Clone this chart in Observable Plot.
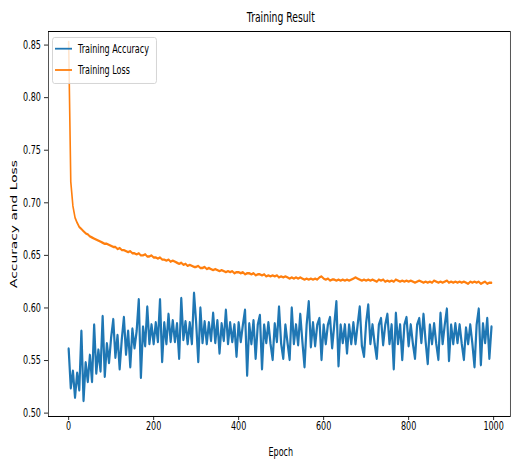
<!DOCTYPE html>
<html><head><meta charset="utf-8">
<script src="https://cdn.jsdelivr.net/npm/d3@7"></script>
<script src="https://cdn.jsdelivr.net/npm/@observablehq/plot@0.6"></script>
<style>
body{margin:0;background:#fff;overflow:hidden;}
#chart{position:relative;width:511px;height:462px;overflow:hidden;}
</style></head><body><div id="chart"></div>
<script>
const accuracy = [
0.561,0.524,0.540,0.515,0.538,0.522,0.578,0.512,0.548,0.530,
0.555,0.530,0.584,0.538,0.560,0.540,0.592,0.535,0.566,0.548,
0.572,0.589,0.553,0.574,0.542,0.570,0.591,0.556,0.578,0.544,
0.580,0.562,0.578,0.608,0.534,0.582,0.564,0.601,0.566,0.584,
0.566,0.586,0.568,0.608,0.549,0.586,0.566,0.594,0.568,0.588,
0.568,0.585,0.552,0.609,0.570,0.587,0.566,0.586,0.566,0.614,
0.586,0.549,0.600,0.567,0.587,0.566,0.586,0.569,0.595,0.567,
0.588,0.557,0.585,0.569,0.598,0.566,0.586,0.568,0.584,0.554,
0.586,0.568,0.584,0.598,0.536,0.585,0.566,0.588,0.552,0.584,
0.593,0.542,0.584,0.567,0.586,0.566,0.551,0.585,0.568,0.601,
0.566,0.552,0.584,0.567,0.551,0.600,0.566,0.584,0.565,0.594,
0.568,0.544,0.584,0.606,0.563,0.586,0.564,0.584,0.590,0.551,
0.584,0.566,0.584,0.591,0.562,0.584,0.606,0.545,0.584,0.567,
0.584,0.557,0.584,0.566,0.586,0.566,0.584,0.601,0.564,0.554,
0.586,0.603,0.566,0.584,0.566,0.552,0.584,0.590,0.565,0.584,
0.594,0.566,0.584,0.542,0.595,0.566,0.584,0.551,0.584,0.591,
0.564,0.584,0.566,0.552,0.584,0.590,0.567,0.594,0.568,0.547,
0.584,0.566,0.585,0.566,0.551,0.595,0.566,0.584,0.599,0.550,
0.584,0.566,0.585,0.567,0.584,0.566,0.551,0.581,0.566,0.584,
0.566,0.544,0.584,0.599,0.546,0.585,0.567,0.590,0.552,0.582
];
const loss = [
0.853,0.720,0.697,0.686,0.681,0.677,0.675,0.673,0.671,0.670,
0.668,0.667,0.666,0.665,0.664,0.663,0.662,0.661,0.661,0.660,
0.659,0.658,0.658,0.656,0.657,0.655,0.655,0.654,0.653,0.654,
0.652,0.652,0.651,0.652,0.650,0.650,0.651,0.649,0.649,0.650,
0.648,0.648,0.647,0.648,0.646,0.646,0.645,0.646,0.644,0.645,
0.644,0.643,0.642,0.643,0.641,0.642,0.640,0.641,0.640,0.639,
0.639,0.640,0.638,0.638,0.639,0.637,0.638,0.637,0.636,0.637,
0.636,0.635,0.636,0.635,0.634,0.635,0.634,0.635,0.633,0.634,
0.634,0.633,0.634,0.632,0.633,0.633,0.632,0.633,0.631,0.632,
0.632,0.631,0.632,0.630,0.631,0.630,0.631,0.630,0.631,0.629,
0.630,0.629,0.630,0.629,0.628,0.629,0.628,0.629,0.628,0.629,
0.628,0.627,0.628,0.627,0.628,0.627,0.628,0.627,0.629,0.630,
0.628,0.627,0.628,0.626,0.627,0.627,0.626,0.627,0.626,0.627,
0.626,0.627,0.626,0.627,0.628,0.629,0.628,0.627,0.626,0.627,
0.626,0.627,0.626,0.627,0.626,0.625,0.627,0.626,0.627,0.625,
0.626,0.625,0.626,0.625,0.627,0.626,0.625,0.626,0.625,0.626,
0.625,0.626,0.625,0.624,0.625,0.626,0.625,0.624,0.625,0.624,
0.625,0.624,0.626,0.625,0.624,0.625,0.624,0.625,0.626,0.624,
0.625,0.624,0.625,0.624,0.625,0.624,0.625,0.624,0.623,0.625,
0.624,0.625,0.624,0.625,0.623,0.624,0.625,0.623,0.624,0.624
];
const epochStep = 5;
const xTicks = [0, 200, 400, 600, 800, 1000];
const yTicks = [0.50, 0.55, 0.60, 0.65, 0.70, 0.75, 0.80, 0.85];
const seriesNames = ["Training Accuracy", "Training Loss"];
const seriesColors = ["#1f77b4", "#ff7f0e"];
const titleText = "Training Result";
const xLabel = "Epoch";
const yLabel = "Accuracy and Loss";

const rows = accuracy.map((a, i) => ({epoch: i * epochStep, accuracy: a, loss: loss[i]}));

// the reference figure is horizontally squeezed; draw wide, then squeeze
const sx = 0.67;
const W = 511 / sx;
const font = "'DejaVu Sans', sans-serif";

const plot = Plot.plot({
  width: W, height: 462,
  marginLeft: 48 / sx, marginRight: 1 / sx, marginTop: 31, marginBottom: 46,
  style: {fontFamily: font, fontSize: "12px", color: "#000", background: "#fff", overflow: "visible"},
  x: {domain: [-47.8, 1039.3]},
  y: {domain: [0.4968, 0.8629]},
  marks: [
    Plot.lineY(rows, {x: "epoch", y: "accuracy", stroke: seriesColors[0], strokeWidth: 3.3, strokeLinejoin: "round"}),
    Plot.lineY(rows, {x: "epoch", y: "loss", stroke: seriesColors[1], strokeWidth: 2.4}),
    Plot.frame({stroke: "#000", strokeWidth: 1}),
    Plot.axisX({ticks: xTicks, tickSize: 4, tickPadding: 1, label: null, tickFormat: d => String(d)}),
    Plot.axisY({ticks: yTicks, tickSize: 4 / sx, tickPadding: 3.4 / sx, label: null, tickFormat: d3.format(".2f")}),
    Plot.text([titleText], {frameAnchor: "top", lineAnchor: "middle", textAnchor: "middle", dy: -14, dx: 1.5 / sx, fontSize: 13.8}),
    Plot.text([xLabel], {frameAnchor: "bottom", lineAnchor: "middle", textAnchor: "middle", dy: 36, dx: 1.5 / sx, fontSize: 12}),
    Plot.text([yLabel], {frameAnchor: "left", lineAnchor: "middle", textAnchor: "middle", rotate: -90, dx: -34 / sx, fontSize: 13.8})
  ]
});

const svg = d3.select(plot);
const lg = svg.append("g");
lg.append("rect").attr("x", 52.5 / sx).attr("y", 37.5).attr("width", 104 / sx).attr("height", 46).attr("rx", 3)
  .style("fill", "#fff").style("fill-opacity", 0.8).style("stroke", "#ccc").style("stroke-width", 1);
seriesNames.forEach((name, i) => {
  const y = 48.7 + i * 21.3;
  lg.append("line").attr("x1", 55 / sx).attr("x2", 72 / sx).attr("y1", y).attr("y2", y)
    .style("stroke", seriesColors[i]).style("stroke-width", 1.8);
  lg.append("text").attr("x", 78 / sx).attr("y", y).attr("dy", "0.35em").text(name)
    .style("font-family", font).style("font-size", "12px").style("fill", "#000")
    .attr("text-anchor", "start");
});
plot.style.maxWidth = "none";
plot.style.transformOrigin = "0 0";
plot.style.transform = `scaleX(${sx})`;
document.getElementById("chart").appendChild(plot);
</script>
</body></html>
